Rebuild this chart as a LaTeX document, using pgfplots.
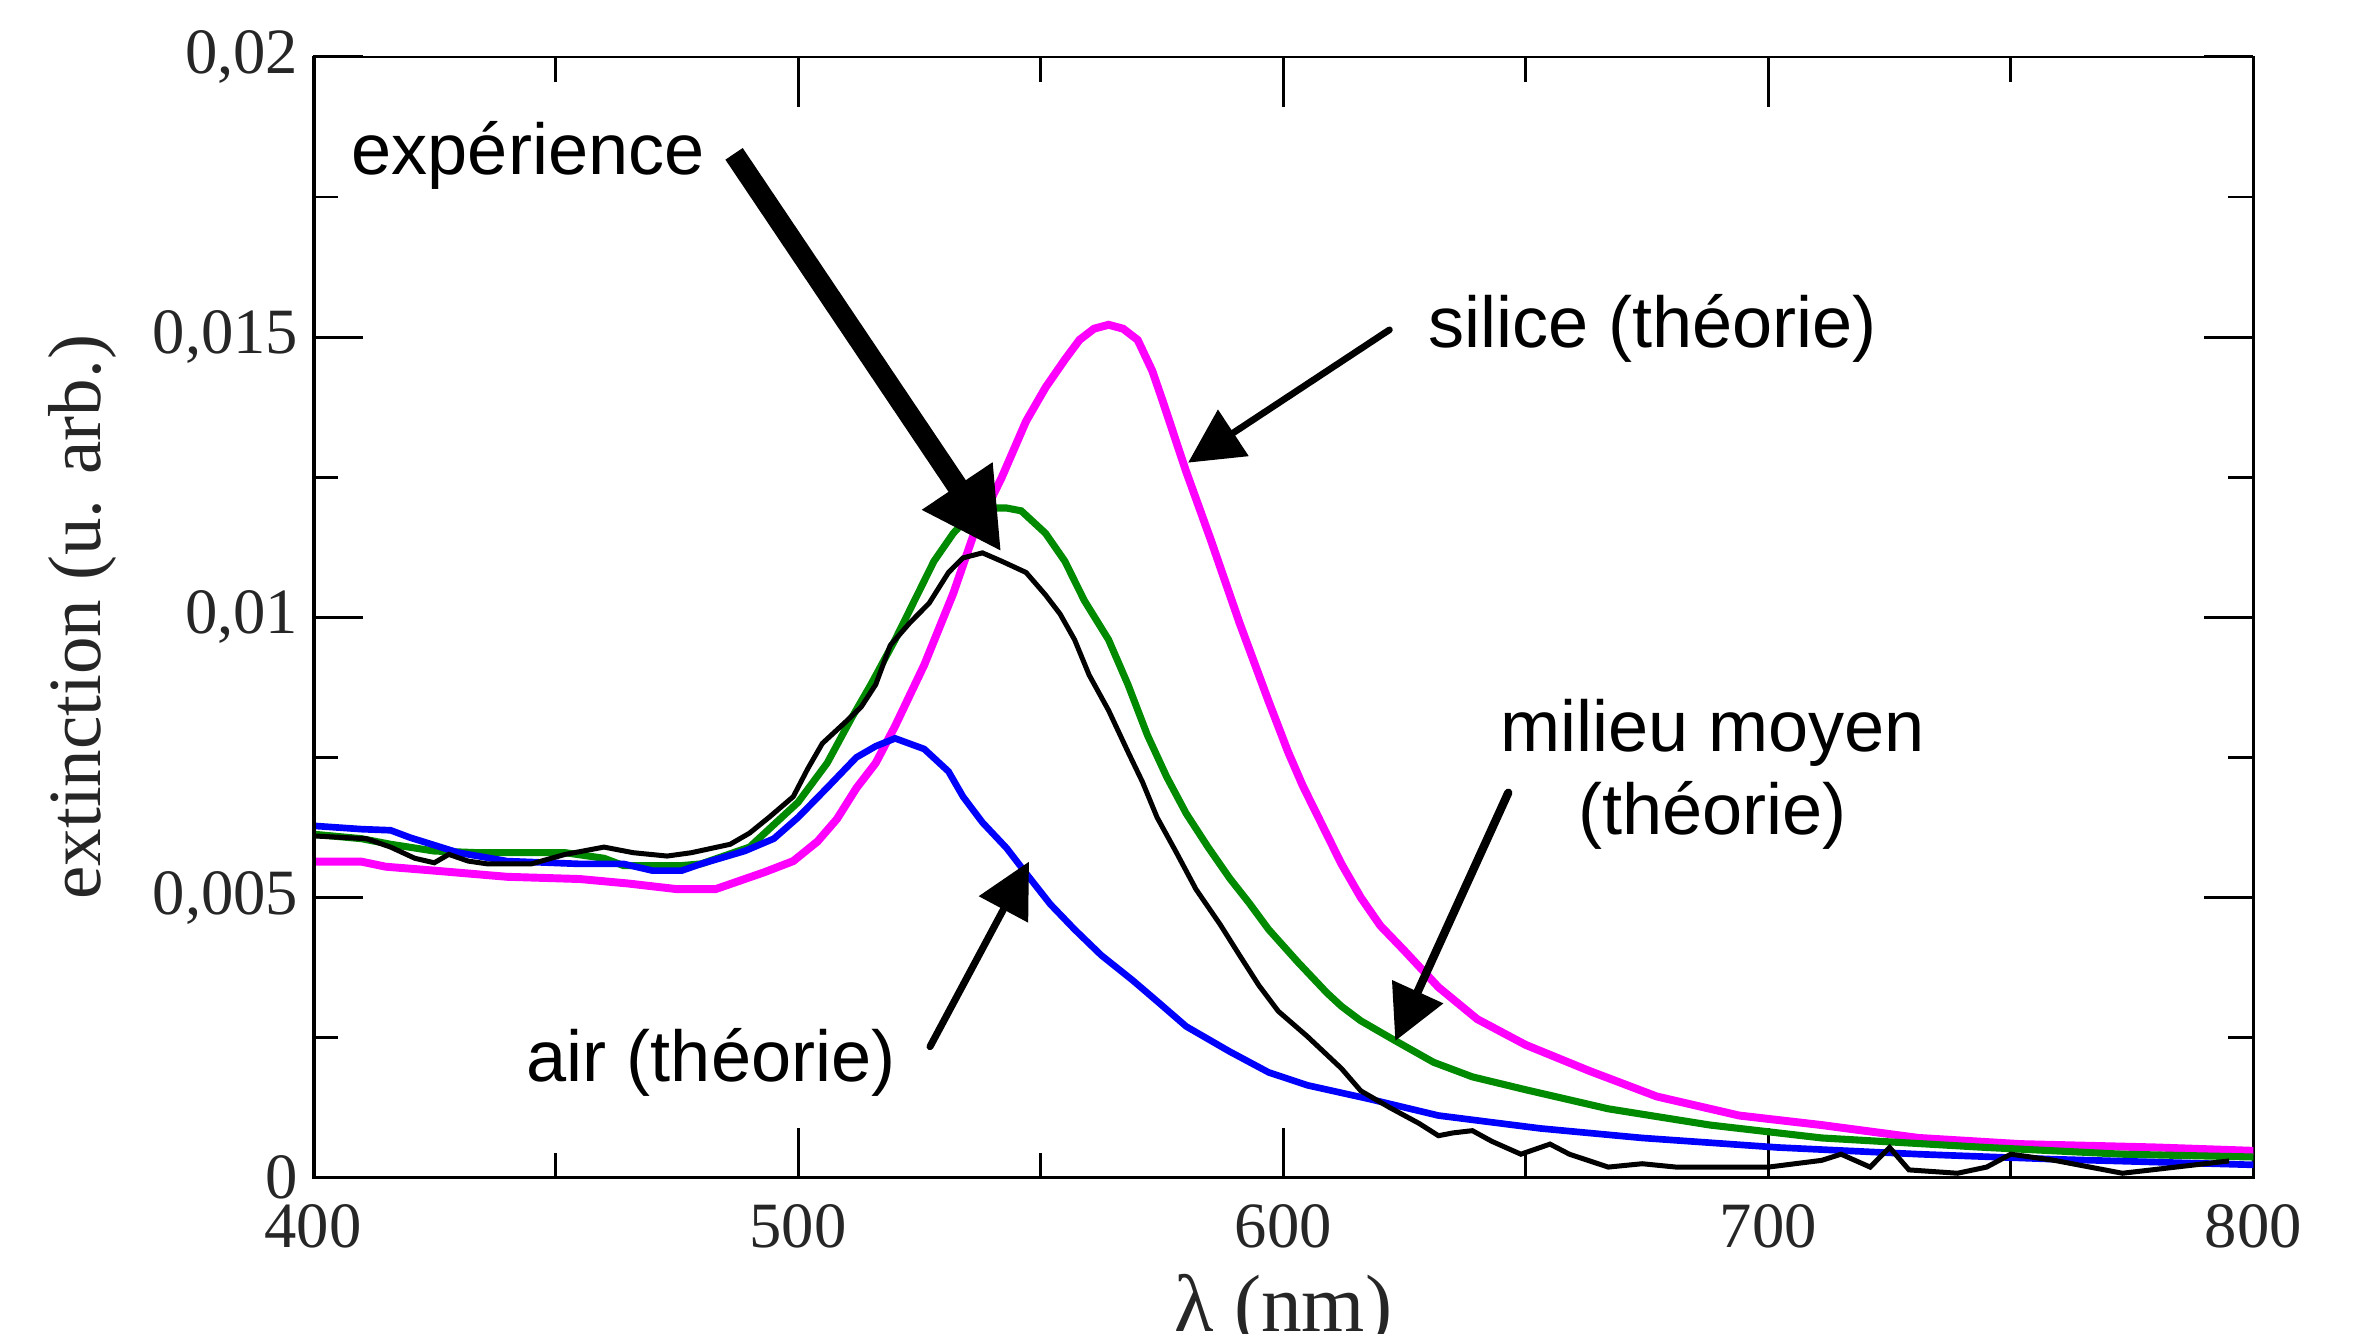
\documentclass[border=0pt]{standalone}
\usepackage{fontspec}
\setmainfont{Liberation Serif}
\setsansfont{Liberation Sans}
\usepackage{pgfplots}
\pgfplotsset{compat=1.18}
\usetikzlibrary{arrows.meta}

\definecolor{mag}{RGB}{255,0,255}
\definecolor{grn}{RGB}{0,138,0}
\definecolor{blu}{RGB}{0,0,255}

\newcommand{\annot}{\sffamily\fontsize{17.3}{20}\selectfont}

\begin{document}
\begin{tikzpicture}
\useasboundingbox (-2.639,-1.31) rectangle (17.36,9.93);
\begin{axis}[
    scale only axis,
    width=16.36cm, height=9.45cm,
    xmin=400, xmax=800, ymin=0, ymax=0.02,
    xtick={400,500,600,700,800},
    xticklabels={400,500,600,700,800},
    ytick={0,0.005,0.01,0.015,0.02},
    yticklabels={{0},{0,005},{0,01},{0,015},{0,02}},
    scaled y ticks=false,
    minor x tick num=1, minor y tick num=1,
    tick align=inside,
    major tick length=0.42cm, minor tick length=0.21cm,
    every tick/.style={black, line width=0.7pt},
    axis line style={line width=0.6pt},
    tick label style={font=\fontsize{15.5}{18}\selectfont, text=black!85},
    x tick label style={yshift=-3pt},
    label style={text=black!85},
    xlabel={λ (nm)},
    ylabel={extinction (u. arb.)},
    x label style={font=\fontsize{19.5}{22}\selectfont,
        at={(axis description cs:0.5,-0.119)}, anchor=center},
    y label style={font=\fontsize{18}{20}\selectfont,
        at={(axis description cs:-0.1186,0.5)}, anchor=center},
]

% silice (theorie)
\addplot[mag, line width=1.9pt] coordinates {
(400,0.00564)(410,0.00564)(415,0.00555)(425,0.00548)(440,0.00537)(455,0.00533)
(465,0.00525)(475,0.00515)(483,0.00515)(488,0.0053)(493,0.00545)(499,0.00565)
(504,0.006)(508,0.0064)(512,0.00695)(516,0.0074)(520,0.00806)(526,0.00915)
(532,0.01043)(536,0.01143)(542,0.0125)(547,0.0135)(551,0.0141)(555,0.0146)
(558,0.01495)(561,0.01515)(564,0.01522)(567,0.01515)(570,0.01495)(573,0.0144)
(575,0.0139)(580,0.0126)(585,0.0114)(591,0.0099)(597,0.0085)(601,0.0076)
(604,0.0070)(608,0.0063)(612,0.0056)(616,0.0050)(620,0.0045)(625,0.00405)
(632,0.0034)(640,0.00283)(650,0.00237)(663,0.00191)(677,0.00145)(694,0.00111)
(711,0.00094)(731,0.00071)(752,0.0006)(780,0.00054)(800,0.00048)
};

% milieu moyen (theorie)
\addplot[grn, line width=1.7pt] coordinates {
(400,0.00613)(410,0.00605)(416,0.00595)(425,0.00583)(434,0.0058)(452,0.0058)
(460,0.0057)(464,0.00557)(476,0.00557)(480,0.0056)(490,0.0059)(495,0.0063)
(500,0.0067)(506,0.0074)(511,0.0082)(515,0.0088)(520,0.0096)(524,0.0103)
(528,0.0110)(532,0.0115)(535,0.01178)(540,0.01195)(543,0.01195)(546,0.0119)
(551,0.0115)(555,0.0110)(559,0.0103)(564,0.0096)(568,0.0088)(572,0.0079)
(576,0.00715)(580,0.0065)(584.5,0.0059)(589,0.00534)(593,0.0049)(597,0.00443)
(603,0.00385)(609,0.0033)(612,0.00306)(616,0.0028)(623,0.00245)(631,0.00206)
(639,0.0018)(650,0.00157)(667,0.00123)(688,0.00094)(711,0.00071)(745,0.00054)
(773,0.00042)(800,0.00037)
};

% air (theorie)
\addplot[blu, line width=1.6pt] coordinates {
(400,0.00628)(410,0.00622)(416,0.0062)(420,0.00607)(430,0.0058)(440,0.00565)
(455,0.0056)(464,0.0056)(470,0.00548)(476,0.00548)(480,0.0056)(489,0.00583)
(495,0.00605)(500,0.00643)(506,0.00696)(512,0.0075)(516,0.0077)(520,0.00784)
(526,0.00765)(531,0.00725)(534,0.0068)(538,0.00634)(543,0.00588)(547,0.00543)
(552,0.00488)(557,0.00443)(562.5,0.00397)(569,0.00352)(574,0.00315)(580,0.0027)
(589,0.00225)(597,0.00188)(605,0.00165)(618,0.0014)(632,0.00111)(653,0.00088)
(674,0.00071)(702,0.00054)(731,0.00042)(759,0.00033)(800,0.00023)
};

% experience
\addplot[black, line width=1.2pt] coordinates {
(400,0.0061)(411,0.00605)(416,0.0059)(421,0.0057)(425,0.00562)(428,0.00577)
(432,0.00565)(436,0.0056)(445,0.0056)(452,0.00577)(460,0.0059)(466,0.0058)
(473,0.00574)(478,0.0058)(486,0.00595)(490,0.00615)(494,0.00643)(499,0.0068)
(502,0.0073)(505,0.00775)(510,0.00815)(513,0.0084)(516,0.0088)(519,0.0095)
(523,0.0099)(527,0.01025)(531,0.0108)(534,0.01106)(538,0.01115)(542,0.011)
(547,0.0108)(551,0.0104)(554,0.01006)(557,0.0096)(560,0.00897)(564,0.00834)
(568,0.0076)(571,0.00706)(574,0.00643)(578,0.0058)(582,0.00515)(587,0.00452)
(591,0.00397)(595,0.00343)(599,0.00297)(605,0.00252)(612,0.00195)(616,0.00155)
(622,0.00125)(628,0.00097)(632,0.00075)(635,0.0008)(639,0.00084)(643,0.00065)
(649,0.00042)(655,0.0006)(659,0.00042)(667,0.00019)(674,0.00025)(681,0.00019)
(700,0.00019)(711,0.00031)(715,0.00042)(721,0.00019)(725,0.00054)(729,0.00014)
(739,0.00008)(745,0.00019)(750,0.00042)(759,0.00031)(773,0.00008)(784,0.00019)
(795,0.0003)
};

% thick left spine
\draw[line width=1.6pt] (rel axis cs:0,0) -- (rel axis cs:0,1);

% annotations
\node[anchor=base west, inner sep=0pt, font=\annot] at (axis cs:407.8,0.0179) {expérience};
\draw[line width=5pt, -{Triangle[length=19pt,width=19pt]}]
    (axis cs:486.8,0.01827) -- (axis cs:541.9,0.01117);

\node[anchor=base west, inner sep=0pt, font=\annot] at (axis cs:629.7,0.01481) {silice (théorie)};
\draw[line width=1.6pt, line cap=round, -{Triangle[length=13pt,width=13pt]}]
    (axis cs:621.9,0.01513) -- (axis cs:580.4,0.01276);

\node[anchor=base, inner sep=0pt, font=\annot] at (axis cs:688.5,0.0076) {milieu moyen};
\node[anchor=base, inner sep=0pt, font=\annot] at (axis cs:688.5,0.00612) {(théorie)};
\draw[line width=2pt, line cap=round, -{Triangle[length=13pt,width=13pt]}]
    (axis cs:646.4,0.00687) -- (axis cs:623.1,0.00244);

\node[anchor=base west, inner sep=0pt, font=\annot] at (axis cs:443.9,0.00171) {air (théorie)};
\draw[line width=1.7pt, line cap=round, -{Triangle[length=13pt,width=13pt]}]
    (axis cs:527.2,0.00234) -- (axis cs:547.6,0.00564);
\end{axis}
\end{tikzpicture}
\end{document}
